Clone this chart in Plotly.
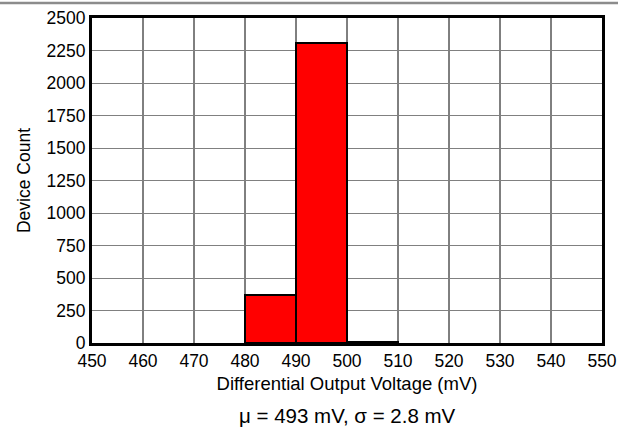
import plotly.graph_objects as go

# histogram bins (mV) and device counts
bin_start = [480, 490, 500]
bin_width = 10
counts = [370, 2310, 8]

x_ticks = [450, 460, 470, 480, 490, 500, 510, 520, 530, 540, 550]
y_ticks = [0, 250, 500, 750, 1000, 1250, 1500, 1750, 2000, 2250, 2500]

fig = go.Figure()

fig.add_trace(go.Bar(
    x=[b + bin_width / 2 for b in bin_start],
    y=counts,
    width=bin_width,
    marker=dict(color='#ff0000', line=dict(color='black', width=2)),
    showlegend=False,
    hoverinfo='x+y'
))

# vertical grid lines are black, horizontal ones gray
for xv in x_ticks[1:-1]:
    fig.add_shape(type='line', xref='x', yref='paper', x0=xv, x1=xv, y0=0, y1=1,
                  line=dict(color='black', width=1), layer='below')

# gray rule at the top of the page
fig.add_shape(type='line', xref='paper', yref='paper', x0=-0.2, x1=1.05, y0=1.046, y1=1.046,
              line=dict(color='#8c8c8c', width=2.5))

fig.add_annotation(
    text='μ = 493 mV, σ = 2.8 mV',
    xref='paper', yref='paper', x=0.5, y=-0.222,
    xanchor='center', yanchor='middle', showarrow=False,
    font=dict(size=20.5, color='black', family='Arial, Liberation Sans')
)

fig.update_layout(
    width=618, height=427,
    margin=dict(l=92, r=16, t=18, b=84),
    plot_bgcolor='white',
    paper_bgcolor='white',
    bargap=0,
    font=dict(family='Arial, Liberation Sans', color='black', size=16),
    xaxis=dict(
        range=[450, 550], tickvals=x_ticks, automargin=False,
        title=dict(text='Differential Output Voltage (mV)', font=dict(size=18.5), standoff=8),
        showgrid=False, zeroline=False,
        showline=True, linecolor='black', linewidth=3, mirror=True,
        ticks='', ticklen=0, tickfont=dict(size=17.5)
    ),
    yaxis=dict(
        range=[0, 2500], tickvals=y_ticks, automargin=False,
        title=dict(text='Device Count', font=dict(size=17.5), standoff=12),
        showgrid=True, gridcolor='#808080', gridwidth=1,
        zeroline=False,
        showline=True, linecolor='black', linewidth=3, mirror=True,
        ticks='', tickfont=dict(size=17.5)
    ),
)

fig.write_html('out.html', config={'displayModeBar': False},
               post_script="document.body.style.margin='0';")
